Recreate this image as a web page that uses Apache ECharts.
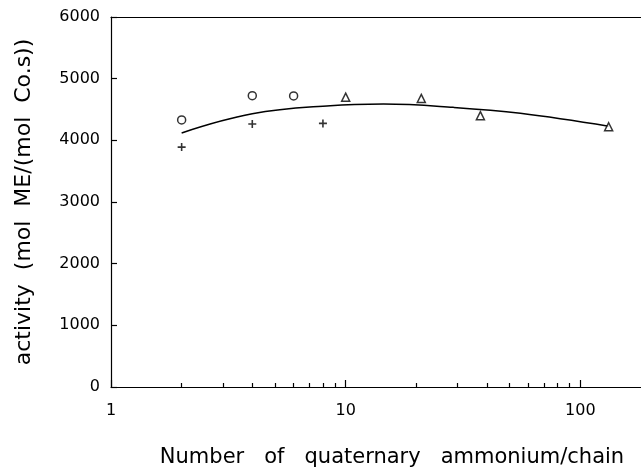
<!DOCTYPE html>
<html>
<head>
<meta charset="utf-8">
<script src="https://cdn.jsdelivr.net/npm/echarts@6/dist/echarts.min.js"></script>
<style>
  html, body { margin: 0; padding: 0; background: #fff; overflow: hidden; }
  #chart { width: 641px; height: 469px; }
</style>
</head>
<body>
<div id="chart"></div>
<script>
// Catalyst activity versus number of quaternary ammonium groups per chain
const circlePoints = [[2, 4330], [4, 4725], [6, 4720]];
const plusPoints = [[2, 3890], [4, 4265], [8, 4275]];
const trianglePoints = [[10, 4700], [21, 4680], [37.5, 4400], [132, 4220]];
const fitCurve = [
  [2, 4120], [4, 4430], [8.6, 4562], [14.5, 4588], [28.7, 4535],
  [55.5, 4438], [132, 4228]
];
const yTicks = [0, 1000, 2000, 3000, 4000, 5000, 6000];
const xMinorTicks = [2, 3, 4, 5, 6, 7, 8, 9, 20, 30, 40, 50, 60, 70, 80, 90];

const FONT = 'DejaVu Sans';
const chart = echarts.init(document.getElementById('chart'), null, { renderer: 'canvas' });

const plusPath = 'path://M4,0H6V4H10V6H6V10H4V6H0V4H4Z';
const LOG_X = { type: 'log', logBase: 10, min: 1, max: 200 };

chart.setOption({
  animation: false,
  backgroundColor: '#fff',
  grid: { left: 111, top: 17, height: 370, width: 540, outerBoundsMode: 'none' },
  xAxis: [
    Object.assign({}, LOG_X, {
      axisLine: { show: true, lineStyle: { color: '#000', width: 1.2 } },
      axisTick: { show: true, inside: true, length: 7, lineStyle: { color: '#000', width: 1.2 } },
      axisLabel: {
        show: true, color: '#000', fontFamily: FONT, fontSize: 16, margin: 16,
        showMaxLabel: false
      },
      splitLine: { show: false },
      name: 'Number   of   quaternary   ammonium/chain',
      nameLocation: 'middle', nameGap: 60,
      nameTextStyle: { color: '#000', fontFamily: FONT, fontSize: 21, padding: [0, 0, 0, 22] }
    }),
    Object.assign({}, LOG_X, {
      position: 'bottom',
      axisLine: { show: false },
      axisTick: {
        show: true, inside: true, length: 4, customValues: xMinorTicks,
        lineStyle: { color: '#000', width: 1.2 }
      },
      axisLabel: { show: false },
      splitLine: { show: false }
    }),
    Object.assign({}, LOG_X, {
      position: 'top',
      axisLine: { show: true, lineStyle: { color: '#000', width: 1.2 } },
      axisTick: { show: false },
      axisLabel: { show: false },
      splitLine: { show: false }
    })
  ],
  yAxis: {
    type: 'value', min: yTicks[0], max: yTicks[yTicks.length - 1], interval: 1000,
    axisLine: { show: true, lineStyle: { color: '#000', width: 1.2 } },
    axisTick: { show: true, inside: true, length: 6, lineStyle: { color: '#000', width: 1.2 } },
    axisLabel: {
      color: '#000', fontFamily: FONT, fontSize: 16, margin: 11,
      formatter: v => String(v)
    },
    splitLine: { show: false },
    name: 'activity  (mol  ME/(mol  Co.s))',
    nameLocation: 'middle', nameGap: 76, nameRotate: 90,
    nameTextStyle: { color: '#000', fontFamily: FONT, fontSize: 22 }
  },
  series: [
    {
      name: 'fit', type: 'line', data: fitCurve, smooth: 0.4, showSymbol: false,
      lineStyle: { color: '#000', width: 1.5 }, z: 2
    },
    {
      name: 'circle', type: 'scatter', data: circlePoints, symbol: 'circle', symbolSize: 8,
      itemStyle: { color: '#fff', borderColor: '#000', borderWidth: 1.5 }, z: 3
    },
    {
      name: 'plus', type: 'scatter', data: plusPoints, symbol: plusPath, symbolSize: 8,
      itemStyle: { color: '#000' }, z: 3
    },
    {
      name: 'triangle', type: 'scatter', data: trianglePoints, symbol: 'triangle', symbolSize: 8,
      itemStyle: { color: '#fff', borderColor: '#000', borderWidth: 1.5 }, z: 3
    }
  ]
});
</script>
</body>
</html>
